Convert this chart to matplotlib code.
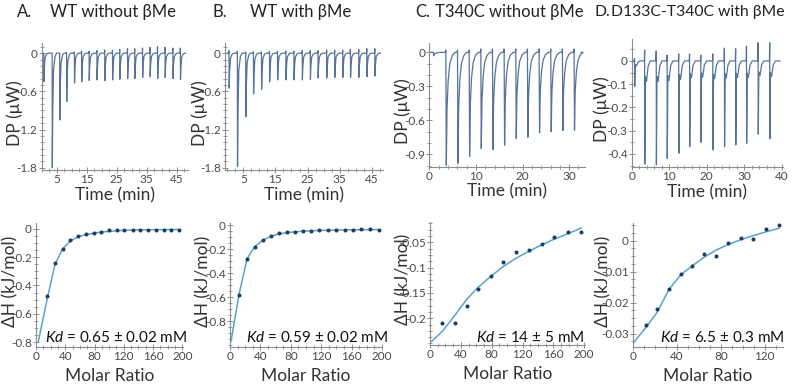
import numpy as np
import matplotlib
matplotlib.use('Agg')
import matplotlib.pyplot as plt
from matplotlib.ticker import MultipleLocator, FuncFormatter

plt.rcParams['font.family'] = ['Lato', 'DejaVu Sans']
plt.rcParams['mathtext.fontset'] = 'custom'
plt.rcParams['mathtext.it'] = 'Lato:italic'
plt.rcParams['mathtext.rm'] = 'Lato'
plt.rcParams['axes.unicode_minus'] = False

TRACE = '#56739a'
FIT = '#5aa3c8'
DOT = '#1f3d66'
GREY = '#8c8c8c'
TXT = '#4a4a4a'

# --- raw thermograms: injection time (min), peak minimum (uW), overshoot above baseline (uW)
a_t = [0.8, 3.6, 6.1, 8.4, 11.0, 13.4, 15.9, 18.5, 21.1, 23.7, 26.1, 28.7, 31.1, 33.7, 36.2, 38.7, 41.2, 43.8, 46.3]
a_dp = [-0.45, -1.8, -1.05, -0.76, -0.47, -0.45, -0.43, -0.42, -0.43, -0.42, -0.41, -0.40, -0.40, -0.38, -0.37, -0.40, -0.38, -0.40, -0.41]
a_up = [0.0, 0.0, 0.0, 0.01, 0.02, 0.03, 0.03, 0.04, 0.05, 0.05, 0.06, 0.07, 0.07, 0.08, 0.09, 0.10, 0.09, 0.08, 0.08]

b_t = [0.6, 3.2, 5.8, 8.2, 10.7, 13.2, 15.7, 18.3, 20.8, 23.4, 25.9, 28.3, 31.0, 33.5, 36.0, 38.4, 41.0, 43.5, 46.0]
b_dp = [-0.55, -1.78, -1.0, -0.64, -0.57, -0.45, -0.42, -0.42, -0.42, -0.42, -0.41, -0.39, -0.39, -0.38, -0.38, -0.38, -0.38, -0.37, -0.36]
b_up = [0.04, 0.03, 0.02, 0.02, 0.02, 0.03, 0.03, 0.03, 0.03, 0.04, 0.04, 0.04, 0.05, 0.05, 0.05, 0.06, 0.06, 0.07, 0.07]

c_t = [0.9, 3.6, 6.1, 8.6, 11.1, 13.6, 16.1, 18.6, 21.1, 23.6, 26.1, 28.6, 31.1]
c_dp = [-0.03, -1.0, -0.98, -0.92, -0.85, -0.86, -0.82, -0.76, -0.75, -0.71, -0.70, -0.69, -0.69]
c_up = [0.0, 0.02, 0.02, 0.02, 0.03, 0.03, 0.03, 0.03, 0.03, 0.03, 0.03, 0.03, 0.03]

d_t = [0.8, 3.5, 6.6, 9.5, 12.6, 15.5, 18.5, 21.7, 24.8, 27.8, 30.7, 33.8, 36.9]
d_dp = [-0.11, -0.444, -0.447, -0.42, -0.397, -0.368, -0.35, -0.383, -0.368, -0.361, -0.354, -0.315, -0.335]
d_up = [0.01, 0.047, 0.043, 0.025, 0.03, 0.03, 0.025, 0.03, 0.055, 0.052, 0.063, 0.078, 0.078]

# --- integrated heats: molar ratio, dH (kJ/mol), fitted curve
ma_x = [15.5, 26, 36.5, 47, 58, 68.5, 79, 89.5, 100, 110.5, 121, 132, 142.5, 153, 164, 174.5, 185, 195.5]
ma_y = [-0.475, -0.243, -0.142, -0.080, -0.047, -0.033, -0.026, -0.019, -0.010, -0.009, -0.007,
        -0.005, -0.005, -0.005, -0.005, -0.007, -0.009, -0.009]
fa_x = [3] + ma_x
fa_y = [-0.80, -0.49, -0.25, -0.14, -0.085, -0.055, -0.04, -0.03, -0.022, -0.017, -0.013, -0.010,
        -0.008, -0.007, -0.006, -0.005, -0.005, -0.004, -0.004]

mb_x = [11.8, 22.4, 32.9, 43, 53.5, 64, 74.5, 85, 95.5, 106.5, 117.5, 128.5, 140, 151, 162, 173, 184.5, 196]
mb_y = [-0.578, -0.278, -0.183, -0.125, -0.089, -0.064, -0.058, -0.053, -0.047, -0.044, -0.042,
        -0.042, -0.039, -0.036, -0.036, -0.031, -0.034, -0.036]
fb_x = [1.3] + mb_x
fb_y = [-0.97, -0.58, -0.28, -0.175, -0.125, -0.092, -0.072, -0.061, -0.054, -0.049, -0.045,
        -0.043, -0.041, -0.039, -0.038, -0.037, -0.036, -0.036, -0.035]

mc_x = [16, 32, 47.5, 62.5, 79, 95, 111, 128, 145, 161, 179, 196]
mc_y = [-0.21, -0.209, -0.175, -0.142, -0.116, -0.09, -0.07, -0.065, -0.053, -0.039, -0.029, -0.030]
fc_x = [2] + mc_x
fc_y = [-0.246, -0.226, -0.195, -0.163, -0.139, -0.117, -0.098, -0.082, -0.068, -0.055, -0.044, -0.033, -0.022]

md_x = [12.2, 22.2, 32.8, 43.5, 54.1, 65, 76, 87, 98.2, 109.4, 121.6, 133]
md_y = [-0.0273, -0.0222, -0.0156, -0.0108, -0.0081, -0.0043, -0.0048, -0.0008, 0.0009, 0.0005, 0.0039, 0.0052]
fd_x = [0.9] + md_x
fd_y = [-0.0327, -0.0278, -0.023, -0.0157, -0.011, -0.0081, -0.0053, -0.0030, -0.0012, 0.0003, 0.0016, 0.0029, 0.0040]

titles = [('A.', 'WT without \u03b2Me'), ('B.', 'WT with \u03b2Me'),
          ('C.', 'T340C without \u03b2Me'), ('D.', 'D133C-T340C with \u03b2Me')]
kd_text = ['0.65 \u00b1 0.02 mM', '0.59 \u00b1 0.02 mM', '14 \u00b1 5 mM', '6.5 \u00b1 0.3 mM']

top_yticks = [[0, -0.6, -1.2, -1.8], [0, -0.6, -1.2, -1.8], [0, -0.3, -0.6, -0.9], [0, -0.1, -0.2, -0.3, -0.4]]
bot_yticks = [[0, -0.2, -0.4, -0.6, -0.8], [0, -0.2, -0.4, -0.6, -0.8],
              [-0.05, -0.1, -0.15, -0.2], [0, -0.01, -0.02, -0.03]]

# peak outline: (time offset, fraction of depth); overshoot drawn just before the drop
narrow = [(0.0, 1.0), (0.15, 0.5), (0.4, 0.15), (0.9, 0.03), (1.4, 0.0)]
wide = [(0.05, 1.0), (0.2, 0.5), (0.45, 0.25), (0.8, 0.1), (1.3, 0.03), (1.9, 0.0)]
spiky = [(0.0, 1.0), (0.15, 0.15), (0.45, 0.2), (0.9, 0.05), (1.5, 0.0)]


def trace(ts, dps, ups, shape, tmax):
    x, y = [0.0], [0.0]
    for t, d, u in zip(ts, dps, ups):
        x += [t - 0.12, t - 0.05]
        y += [0.0, u]
        for dt, f in shape:
            x.append(t + dt)
            y.append(d * f)
    x.append(tmax)
    y.append(0.0)
    return x, y


W, H = 792, 385
fig = plt.figure(figsize=(W / 100, H / 100), dpi=100)


def add_ax(l, r, top, bot):
    ax = fig.add_axes([l / W, 1 - bot / H, (r - l) / W, (bot - top) / H])
    for s in ('top', 'right'):
        ax.spines[s].set_visible(False)
    for s in ('left', 'bottom'):
        ax.spines[s].set_color(GREY)
        ax.spines[s].set_linewidth(0.8)
    ax.tick_params(which='major', direction='inout', length=4, width=0.7, color=GREY,
                   labelsize=8.5, labelcolor=TXT, pad=1)
    ax.tick_params(which='minor', direction='inout', length=2.2, width=0.6, color=GREY)
    ax.patch.set_alpha(0)
    fmt = FuncFormatter(lambda v, p: '%g' % round(v, 6))
    ax.yaxis.set_major_formatter(fmt)
    ax.xaxis.set_major_formatter(fmt)
    return ax


def labels(ax, xl, yl, xy, yx, yy):
    ax.set_xlabel(xl, fontsize=12.5, color='#333333')
    ax.set_ylabel(yl, fontsize=12.5, color='#333333')
    ax.xaxis.label.set_va('center')
    ax.yaxis.label.set_va('center')
    ax.xaxis.set_label_coords(0.5, xy)
    ax.yaxis.set_label_coords(yx, yy)


# ---- top row: thermograms
top = [
    (a_t, a_dp, a_up, narrow, (41.5, 188, 43, 170), (0, 48.8), (-1.836, 0.16), 0.1, [5, 15, 25, 35, 45], 2.5),
    (b_t, b_dp, b_up, narrow, (225, 383, 43, 170), (-0.7, 48.5), (-1.836, 0.16), 0.1, [5, 15, 25, 35, 45], 2.5),
    (c_t, c_dp, c_up, wide, (429.3, 585, 43.3, 166.7), (0, 33.4), (-1.01, 0.08), 0.1, [0, 10, 20, 30], 2),
    (d_t, d_dp, d_up, spiky, (631.7, 783, 39.3, 166.7), (0, 40.4), (-0.455, 0.093), 0.05, [0, 10, 20, 30, 40], 2),
]
ylab_x = [-0.18, -0.16, -0.17, -0.2]
for i, (ts, dps, ups, shape, box, xlim, ylim, ymin, xt, xmin) in enumerate(top):
    ax = add_ax(*box)
    x, y = trace(ts, dps, ups, shape, xlim[1] - 0.8)
    ax.plot(x, y, color=TRACE, lw=0.9)
    ax.set_xlim(xlim)
    ax.set_ylim(ylim)
    ax.set_yticks(top_yticks[i])
    ax.yaxis.set_minor_locator(MultipleLocator(ymin))
    ax.set_xticks(xt)
    ax.xaxis.set_minor_locator(MultipleLocator(xmin))
    labels(ax, 'Time (min)', 'DP (\u03bcW)', -0.2, ylab_x[i], 0.45)

# ---- bottom row: binding isotherms
bottom = [
    (ma_x, ma_y, fa_x, fa_y, (36, 183, 223, 347), (0, 201), (-0.835, 0.042), 0.05, 187),
    (mb_x, mb_y, fb_x, fb_y, (230, 382, 223, 347), (0, 200), (-1.017, 0.02), 0.05, 388),
    (mc_x, mc_y, fc_x, fc_y, (430, 585, 222, 345), (0, 201), (-0.253, -0.01), 0.0125, 585),
    (md_x, md_y, fd_x, fd_y, (633, 783, 223, 347), (0, 136.7), (-0.0343, 0.0057), 0.0025, 785),
]
hl_x = [-0.177, -0.178, -0.174, -0.2]
for i, (mx, my, fx, fy, box, xlim, ylim, ymin, kd_r) in enumerate(bottom):
    ax = add_ax(*box)
    ax.plot(fx, fy, color=FIT, lw=1.1)
    ax.plot(mx, my, 'o', color=DOT, ms=1.9)
    ax.set_xlim(xlim)
    ax.set_ylim(ylim)
    ax.set_yticks(bot_yticks[i])
    ax.yaxis.set_minor_locator(MultipleLocator(ymin))
    ax.set_xticks(np.arange(0, xlim[1] + 0.01, 40))
    ax.xaxis.set_minor_locator(MultipleLocator(10))
    labels(ax, 'Molar Ratio', '\u0394H (kJ/mol)', -0.234, hl_x[i], 0.53)
    fig.text(kd_r / W, 1 - 337 / H, r'$\mathit{Kd}$ = ' + kd_text[i], ha='right', va='center',
             fontsize=11, color='#111111')

# ---- panel titles
title_pos = [(17, 50, 12), (212, 250, 12), (415, 435, 12), (595, 611, 11.3)]
for (letter, name), (lx, nx, fs) in zip(titles, title_pos):
    fig.text(lx / W, 1 - 12 / H, letter, ha='left', va='center', fontsize=fs, color='#222222')
    fig.text(nx / W, 1 - 12 / H, name, ha='left', va='center', fontsize=fs, color='#222222')

fig.savefig('out.png', dpi=100)
